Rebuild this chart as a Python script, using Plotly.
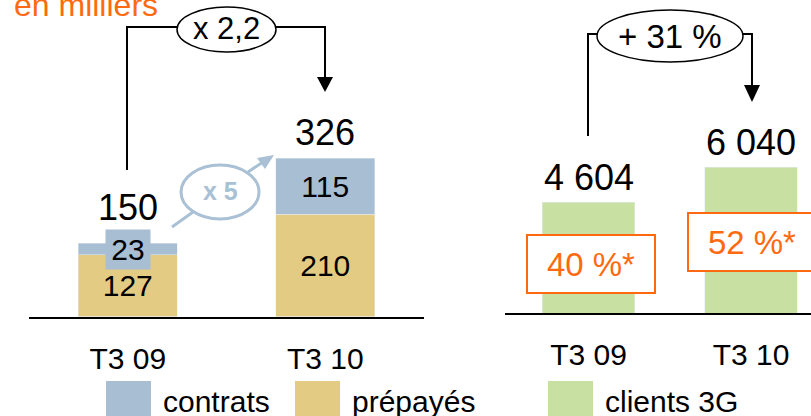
import plotly.graph_objects as go

# ---------------- data ----------------
categories = ["T3 09", "T3 10"]
contrats = [23, 115]
prepayes = [127, 210]
totals = [150, 326]
clients_3g = [4604, 6040]
share_3g = [40, 52]
growth_left = "x 2,2"
growth_contrats = "x 5"
growth_right = "+ 31 %"
legend_labels = ["contrats", "prépayés", "clients 3G"]
unit_label = "en milliers"

# ---------------- style ----------------
W, H = 811, 416
FONT = "Liberation Sans, Arial, Helvetica, sans-serif"
C_BLUE = "#a7bed3"
C_YELLOW = "#e4cb84"
C_GREEN = "#c9e0a3"
C_ORANGE = "#ff6a10"
C_LBLUE = "#a9c0d5"


def px(x):
    return x / W


def py(y):
    return 1 - y / H


def fmt(v):
    return f"{v:,}".replace(",", " ")


fig = go.Figure()

# left panel: stacked bars
fig.add_trace(go.Bar(
    x=categories, y=prepayes, name=legend_labels[1], marker_color=C_YELLOW,
    width=0.5, text=[str(v) for v in prepayes], textposition="inside",
    insidetextanchor="middle", constraintext="none",
    textfont=dict(size=30, color="black", family=FONT),
    xaxis="x", yaxis="y", showlegend=False))
fig.add_trace(go.Bar(
    x=categories, y=contrats, name=legend_labels[0], marker_color=C_BLUE,
    width=0.5, text=["" if v < 50 else str(v) for v in contrats],
    textposition="inside", insidetextanchor="middle", constraintext="none",
    textfont=dict(size=30, color="black", family=FONT),
    xaxis="x", yaxis="y", showlegend=False))

# right panel: 3G clients
fig.add_trace(go.Bar(
    x=categories, y=clients_3g, name=legend_labels[2], marker_color=C_GREEN,
    width=0.57, xaxis="x2", yaxis="y2", showlegend=False))

annotations = []
shapes = []


def ann(**kw):
    d = dict(showarrow=False, xanchor="center", yanchor="middle")
    d.update(kw)
    annotations.append(d)


# totals
for i, (c, t) in enumerate(zip(categories, totals)):
    ann(x=c, y=t, xref="x", yref="y", text=fmt(t),
        yshift=36 if i == 0 else 25,
        font=dict(size=36, color="black", family=FONT))
for c, t in zip(categories, clients_3g):
    ann(x=c, y=t, xref="x2", yref="y2", text=fmt(t), yshift=25,
        font=dict(size=36, color="black", family=FONT))

# small contrats label with its blue box
ann(x=categories[0], y=prepayes[0] + contrats[0] / 2, xref="x", yref="y",
    text=str(contrats[0]), bgcolor=C_BLUE, width=38, height=33, borderpad=3,
    font=dict(size=30, color="black", family=FONT))

# orange share boxes
share_pos = [(591, 264), (752, 241.5)]
for s, (bx, by) in zip(share_3g, share_pos):
    ann(x=px(bx), y=py(by), xref="paper", yref="paper",
        text=f"{s} %*", width=124, height=54,
        borderpad=1, bordercolor=C_ORANGE, borderwidth=2, bgcolor="white",
        font=dict(size=33, color=C_ORANGE, family=FONT))


# growth brackets
def path(points):
    s = ""
    for cmd, x, y in points:
        s += f"{cmd} {px(x):.5f},{py(y):.5f} "
    return s


def tri(x, ytop, ytip, hw):
    return path([("M", x - hw, ytop), ("L", x + hw, ytop), ("L", x, ytip)]) + "Z"


line_black = dict(color="black", width=2)
shapes.append(dict(type="path", xref="paper", yref="paper", line=line_black,
                   path=path([("M", 127, 170), ("L", 127, 27), ("L", 177, 27),
                              ("M", 276, 27), ("L", 325, 27), ("L", 325, 80)])))
shapes.append(dict(type="path", xref="paper", yref="paper", line=dict(width=0),
                   fillcolor="black", path=tri(325, 77, 92, 8)))
shapes.append(dict(type="circle", xref="paper", yref="paper",
                   x0=px(177), x1=px(276), y0=py(52), y1=py(7),
                   line=dict(color="black", width=1.5), fillcolor="white"))
ann(x=px(226.5), y=py(29), xref="paper", yref="paper", text=growth_left,
    font=dict(size=31, color="black", family=FONT))

shapes.append(dict(type="path", xref="paper", yref="paper", line=line_black,
                   path=path([("M", 588, 136), ("L", 588, 34), ("L", 598, 34),
                              ("M", 742, 34), ("L", 752, 34), ("L", 752, 88)])))
shapes.append(dict(type="path", xref="paper", yref="paper", line=dict(width=0),
                   fillcolor="black", path=tri(752, 85, 102, 8)))
shapes.append(dict(type="circle", xref="paper", yref="paper",
                   x0=px(597), x1=px(743), y0=py(62), y1=py(10),
                   line=dict(color="black", width=1.5), fillcolor="white"))
ann(x=px(670), y=py(36), xref="paper", yref="paper", text=growth_right,
    font=dict(size=33, color="black", family=FONT))

# x 5 bubble
shapes.append(dict(type="circle", xref="paper", yref="paper",
                   x0=px(181), x1=px(259), y0=py(219), y1=py(165),
                   line=dict(color=C_LBLUE, width=3)))
shapes.append(dict(type="path", xref="paper", yref="paper",
                   line=dict(color=C_LBLUE, width=3),
                   path=path([("M", 172, 227), ("L", 193, 212),
                              ("M", 248, 172), ("L", 263, 162)])))
shapes.append(dict(type="path", xref="paper", yref="paper", line=dict(width=0),
                   fillcolor=C_LBLUE,
                   path=path([("M", 274, 155), ("L", 257, 158), ("L", 265, 169)]) + "Z"))
ann(x=px(220), y=py(191), xref="paper", yref="paper",
    text=f"<b>{growth_contrats}</b>",
    font=dict(size=25, color=C_LBLUE, family=FONT))

# unit label
ann(x=px(12), y=py(5), xref="paper", yref="paper", xanchor="left",
    text=unit_label, font=dict(size=32, color=C_ORANGE, family=FONT))

# legend (large swatches)
legend_items = [(legend_labels[0], C_BLUE, 106), (legend_labels[1], C_YELLOW, 295),
                (legend_labels[2], C_GREEN, 548)]
for lab, col, x0 in legend_items:
    shapes.append(dict(type="rect", xref="paper", yref="paper",
                       x0=px(x0), x1=px(x0 + 45), y0=py(416), y1=py(381),
                       line=dict(width=0), fillcolor=col))
    ann(x=px(x0 + 55), y=py(401), xref="paper", yref="paper", xanchor="left",
        text=lab, font=dict(size=30, color="black", family=FONT))

axis_common = dict(showline=True, linecolor="black", linewidth=2, ticks="",
                   showgrid=False, zeroline=False, fixedrange=True,
                   tickfont=dict(size=30, color="black", family=FONT),
                   ticklabelstandoff=14, type="category")
yaxis_common = dict(visible=False, showgrid=False, zeroline=False, fixedrange=True)

fig.update_layout(
    width=W, height=H,
    margin=dict(l=0, r=0, t=0, b=0, pad=0, autoexpand=False),
    paper_bgcolor="white", plot_bgcolor="rgba(0,0,0,0)",
    barmode="stack", showlegend=False,
    font=dict(family=FONT),
    xaxis=dict(domain=[px(29), px(424)], anchor="y", range=[-0.5, 1.5], **axis_common),
    yaxis=dict(domain=[py(316.5), 1], anchor="x", range=[0, 316.5 / 0.487], **yaxis_common),
    xaxis2=dict(domain=[px(505), 1], anchor="y2", range=[-0.514, 1.369], **axis_common),
    yaxis2=dict(domain=[py(313), 1], anchor="x2", range=[0, 313 / 0.0241], **yaxis_common),
    shapes=shapes, annotations=annotations,
)

fig.write_html("out.html", config={"displayModeBar": False},
               post_script="document.body.style.margin='0px';document.body.style.overflow='hidden';")
